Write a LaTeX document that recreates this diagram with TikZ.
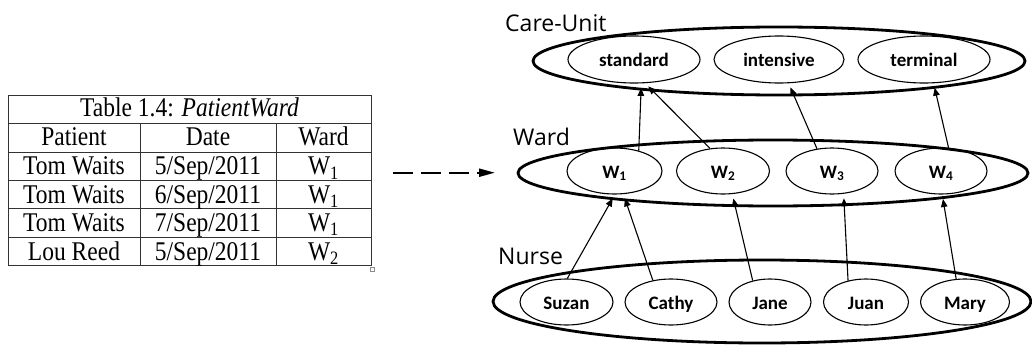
\documentclass[tikz,border=0pt]{standalone}
\usepackage{fontspec}
\usepackage{graphicx}
\setmainfont{Liberation Serif}
\newfontfamily\calfont{Carlito}
\newfontfamily\labfont{Open Sans}
\usetikzlibrary{arrows.meta,shapes.geometric}
% table text is set slightly taller than wide
\newcommand{\tallcell}[1]{\scalebox{1}[1.15]{#1}}

\begin{document}
\begin{tikzpicture}[x=1pt,y=-1pt,
  cell/.style={anchor=base,inner sep=0pt,font=\fontsize{23.5}{24}\selectfont},
  rule/.style={draw=black!80,line width=1pt},
  group/.style={draw,ellipse,line width=2.8pt,inner sep=0pt},
  member/.style={draw,ellipse,line width=1.1pt,inner sep=0pt,minimum height=46pt,
    text height=14pt,text depth=0pt,
    font=\calfont\bfseries\fontsize{19}{20}\selectfont},
  grouplabel/.style={anchor=base west,inner sep=0pt,font=\labfont\fontsize{23}{24}\selectfont},
  link/.style={line width=1.1pt,-{Triangle[length=8pt,width=6.5pt]},shorten >=4.5pt}]
\useasboundingbox (0,0) rectangle (1032,345);

% ---------- table ----------
\draw[rule] (8,95) rectangle (371,265.5);
\foreach \y in {123.3,152,180.3,208.7,237} \draw[rule] (8,\y) -- (371,\y);
\foreach \x in {140,276} \draw[rule] (\x,123.3) -- (\x,265.5);
\draw[draw=black!45,line width=0.6pt] (370.5,267.5) rectangle (374.5,271.5);

\node[cell] (title) at (189.5,116.7) {\tallcell{Table 1.4: \textit{PatientWard}}};
\node[cell] (hpat) at (74,145) {\tallcell{Patient}};
\node[cell] (hdate) at (208,145) {\tallcell{Date}};
\node[cell] (hward) at (323.5,145) {\tallcell{Ward}};

\node[cell] (p1) at (74,174.8) {\tallcell{Tom Waits}};
\node[cell] (d1) at (208,174.8) {\tallcell{5/Sep/2011}};
\node[cell] (w1t) at (323.5,174.8) {\tallcell{W\textsubscript{1}}};
\node[cell] (p2) at (74,203.2) {\tallcell{Tom Waits}};
\node[cell] (d2) at (208,203.2) {\tallcell{6/Sep/2011}};
\node[cell] (w2t) at (323.5,203.2) {\tallcell{W\textsubscript{1}}};
\node[cell] (p3) at (74,231.5) {\tallcell{Tom Waits}};
\node[cell] (d3) at (208,231.5) {\tallcell{7/Sep/2011}};
\node[cell] (w3t) at (323.5,231.5) {\tallcell{W\textsubscript{1}}};
\node[cell] (p4) at (74,260) {\tallcell{Lou Reed}};
\node[cell] (d4) at (208,260) {\tallcell{5/Sep/2011}};
\node[cell] (w4t) at (323.5,260) {\tallcell{W\textsubscript{2}}};

% ---------- dashed mapping arrow ----------
\coordinate (mapfrom) at (393,172.7);
\coordinate (mapto) at (495,172.7);
\draw[line width=2.2pt,dash pattern=on 20pt off 8pt,-{Triangle[length=16pt,width=8pt]}] (mapfrom) -- (mapto);

% ---------- hierarchy groups ----------
\node[group,minimum width=492pt,minimum height=68pt] (careunit) at (779,61) {};
\node[group,minimum width=510pt,minimum height=66pt] (ward) at (773,173) {};
\node[group,minimum width=538pt,minimum height=83pt] (nurse) at (762,301.5) {};

\node[grouplabel] (lcare) at (505,31.5) {Care-Unit};
\node[grouplabel] (lward) at (513,145.7) {Ward};
\node[grouplabel] (lnurse) at (498,264.3) {Nurse};

% care units
\node[member,minimum width=132pt,minimum height=47pt] (standard) at (634,59.5) {standard};
\node[member,minimum width=130pt,minimum height=47pt] (intensive) at (779,59.5) {intensive};
\node[member,minimum width=132pt,minimum height=47pt] (terminal) at (924,59.5) {terminal};

% wards
\node[member,minimum width=95pt] (W1) at (614.5,171) {W\textsubscript{1}};
\node[member,minimum width=93pt] (W2) at (723,171) {W\textsubscript{2}};
\node[member,minimum width=92pt] (W3) at (832,171) {W\textsubscript{3}};
\node[member,minimum width=92pt] (W4) at (941,171) {W\textsubscript{4}};

% nurses
\node[member,minimum width=93pt] (suzan) at (566.5,302) {Suzan};
\node[member,minimum width=92pt] (cathy) at (671,302) {Cathy};
\node[member,minimum width=82pt] (jane) at (770,302) {Jane};
\node[member,minimum width=85pt] (juan) at (866,302) {Juan};
\node[member,minimum width=89pt] (mary) at (965,302) {Mary};

% ward -> care unit
\draw[link] (W1.40) -- (standard.-73);
\draw[link] (W2.120.5) -- (standard.-65);
\draw[link] (W3.124.6) -- (intensive.-68.9);
\draw[link] (W4.72.9) -- (terminal.-68.9);

% nurse -> ward
\draw[link] (suzan.88) -- (W1.-89);
\draw[link] (cathy.130.4) -- (W1.-69.4);
\draw[link] (jane.129) -- (W2.-68.2);
\draw[link] (juan.130.8) -- (W3.-63.7);
\draw[link] (mary.111.8) -- (W4.-87.5);
\end{tikzpicture}
\end{document}
